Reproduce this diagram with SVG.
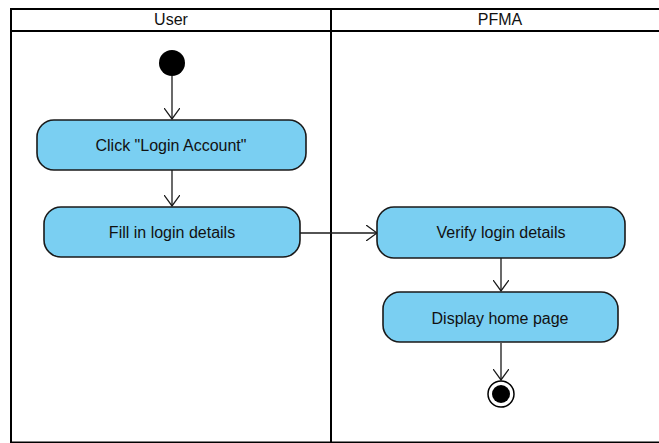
<svg xmlns="http://www.w3.org/2000/svg" width="659" height="443" viewBox="0 0 659 443">
  <defs>
    <style>
      .lane { fill: none; stroke: #000; stroke-width: 2; }
      .head { font-family: "Liberation Sans", Arial, sans-serif; font-size: 16px; fill: #111; text-anchor: middle; }
      .act rect { fill: #7acff2; stroke: #1a1a1a; stroke-width: 1.6; }
      .act text { font-family: "Liberation Sans", Arial, sans-serif; font-size: 16px; fill: #111; text-anchor: middle; dominant-baseline: central; }
      .flow { fill: none; stroke: #1a1a1a; stroke-width: 1.3; marker-end: url(#open); }
    </style>
    <marker id="open" viewBox="0 0 12 16" refX="11" refY="8" markerWidth="12" markerHeight="16" markerUnits="userSpaceOnUse" orient="auto">
      <path d="M0,0 L11,8 L0,16" fill="none" stroke="#1a1a1a" stroke-width="1.3"/>
    </marker>
  </defs>
  <rect width="659" height="443" fill="#fff"/>

  <!-- swimlanes -->
  <g id="lanes">
    <rect class="lane" x="11" y="9" width="660" height="433.5"/>
    <line class="lane" x1="11" y1="31" x2="671" y2="31"/>
    <line class="lane" x1="331" y1="9" x2="331" y2="443"/>
    <text class="head" x="171" y="25">User</text>
    <text class="head" x="500" y="25">PFMA</text>
  </g>

  <!-- connectors -->
  <g id="connectors">
    <line class="flow" x1="172" y1="76" x2="172" y2="119"/>
    <line class="flow" x1="172" y1="170" x2="172" y2="206"/>
    <line class="flow" x1="300" y1="233" x2="377" y2="233"/>
    <line class="flow" x1="501" y1="258" x2="501" y2="291"/>
    <line class="flow" x1="501" y1="343" x2="501" y2="380"/>
  </g>

  <!-- nodes -->
  <g id="start">
    <circle cx="172" cy="63" r="13" fill="#000"/>
  </g>
  <g id="click-login" class="act">
    <rect x="37" y="120" width="269" height="50" rx="17"/>
    <text x="171" y="145">Click "Login Account"</text>
  </g>
  <g id="fill-details" class="act">
    <rect x="44" y="207" width="256" height="50" rx="17"/>
    <text x="172" y="232">Fill in login details</text>
  </g>
  <g id="verify-details" class="act">
    <rect x="377" y="207" width="248" height="51" rx="17"/>
    <text x="501" y="232">Verify login details</text>
  </g>
  <g id="display-home" class="act">
    <rect x="383" y="292" width="235" height="50" rx="17"/>
    <text x="500" y="318">Display home page</text>
  </g>
  <g id="end">
    <circle cx="501" cy="394" r="13" fill="#fff" stroke="#000" stroke-width="1.5"/>
    <circle cx="501" cy="394" r="9" fill="#000"/>
  </g>
</svg>
